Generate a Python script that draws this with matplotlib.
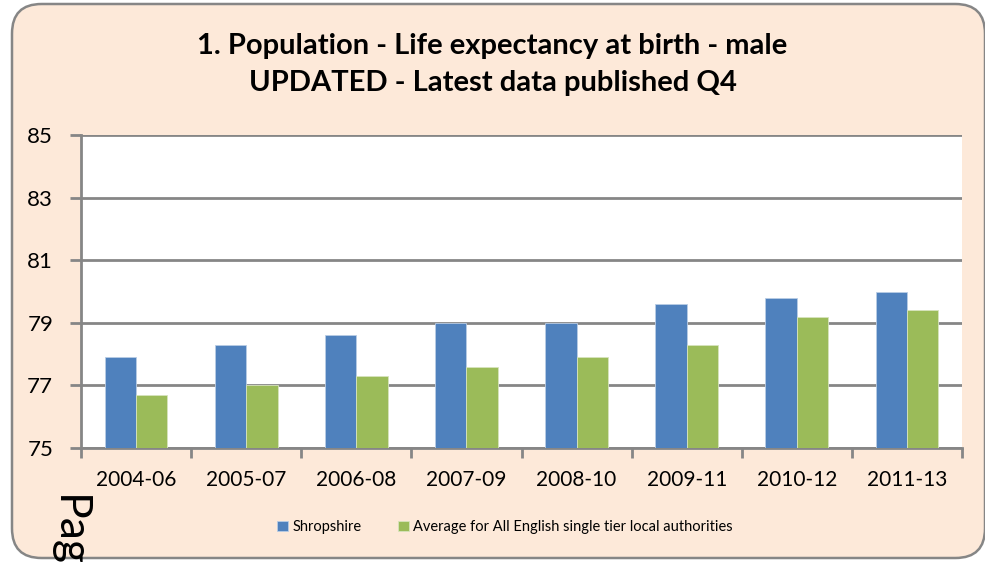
import numpy as np
import matplotlib.pyplot as plt
from matplotlib.patches import FancyBboxPatch

# Дані графіка
periods = ["2004-06", "2005-07", "2006-08", "2007-09", "2008-10", "2009-11", "2010-12", "2011-13"]
shropshire = [77.9, 78.3, 78.6, 79.0, 79.0, 79.6, 79.8, 80.0]
england_avg = [76.7, 77.0, 77.3, 77.6, 77.9, 78.3, 79.2, 79.4]
series_names = ["Shropshire", "Average for All English single tier local authorities"]
y_ticks = [75, 77, 79, 81, 83, 85]

W, H = 985, 562
fig = plt.figure(figsize=(W / 100, H / 100), dpi=100)
fig.patch.set_facecolor("white")

# Рамка з заокругленими кутами
box = FancyBboxPatch((12 / W, 4 / H), (W - 12) / W, (H - 8) / H,
                     boxstyle="round,pad=0,rounding_size=0.03",
                     transform=fig.transFigure, facecolor="#FDE9D9",
                     edgecolor="#868686", linewidth=1.8, zorder=-5,
                     mutation_aspect=W / H)
fig.patches.append(box)

ax = fig.add_axes([81 / W, 1 - 448 / H, (962 - 81) / W, (448 - 135) / H])
ax.set_zorder(2)
ax.set_facecolor("white")

x = np.arange(len(periods))
bw = 0.285
ax.bar(x - bw / 2, np.array(shropshire) - 75, bw, bottom=75, color="#4F81BD",
       edgecolor="#B9CDE5", linewidth=0.6, label=series_names[0], zorder=3)
ax.bar(x + bw / 2, np.array(england_avg) - 75, bw, bottom=75, color="#9BBB59",
       edgecolor="#D7E4BD", linewidth=0.6, label=series_names[1], zorder=3)

ax.set_ylim(75, 85)
ax.set_xlim(-0.5, len(periods) - 0.5)
ax.set_yticks(y_ticks)
ax.set_yticklabels([str(t) for t in y_ticks], fontsize=16, family="Lato")
ax.set_xticks(x)
ax.set_xticklabels(periods, fontsize=15, family="Lato")
ax.set_xticks(np.arange(len(periods) + 1) - 0.5, minor=True)
ax.tick_params(axis="x", which="major", length=0, pad=16)
ax.tick_params(axis="x", which="minor", length=7, width=2, color="#868686")
ax.tick_params(axis="y", length=8, width=2, color="#868686", pad=12)

ax.grid(axis="y", color="#868686", linewidth=2, zorder=1)
for side in ["top", "right"]:
    ax.spines[side].set_visible(False)
for side in ["left", "bottom"]:
    ax.spines[side].set_color("#868686")
    ax.spines[side].set_linewidth(2)

fig.text(0.5, 1 - 46 / H, "1. Population - Life expectancy at birth - male",
         ha="center", va="center", fontsize=21, fontweight="bold", family="Lato")
fig.text(0.5, 1 - 83 / H, "UPDATED - Latest data published Q4",
         ha="center", va="center", fontsize=21, fontweight="bold", family="Lato")

ax.legend(loc="center", bbox_to_anchor=(505 / W, 1 - 527 / H),
          bbox_transform=fig.transFigure, ncol=2, frameon=False,
          prop={"family": "Lato", "size": 10.5}, handlelength=0.75,
          handleheight=0.75, handletextpad=0.3, columnspacing=2.5)

fig.text(48 / W, 1 - 495 / H, "Page", rotation=270, ha="left", va="top",
         fontsize=32, family="Lato")

fig.savefig("out.png", dpi=100)
